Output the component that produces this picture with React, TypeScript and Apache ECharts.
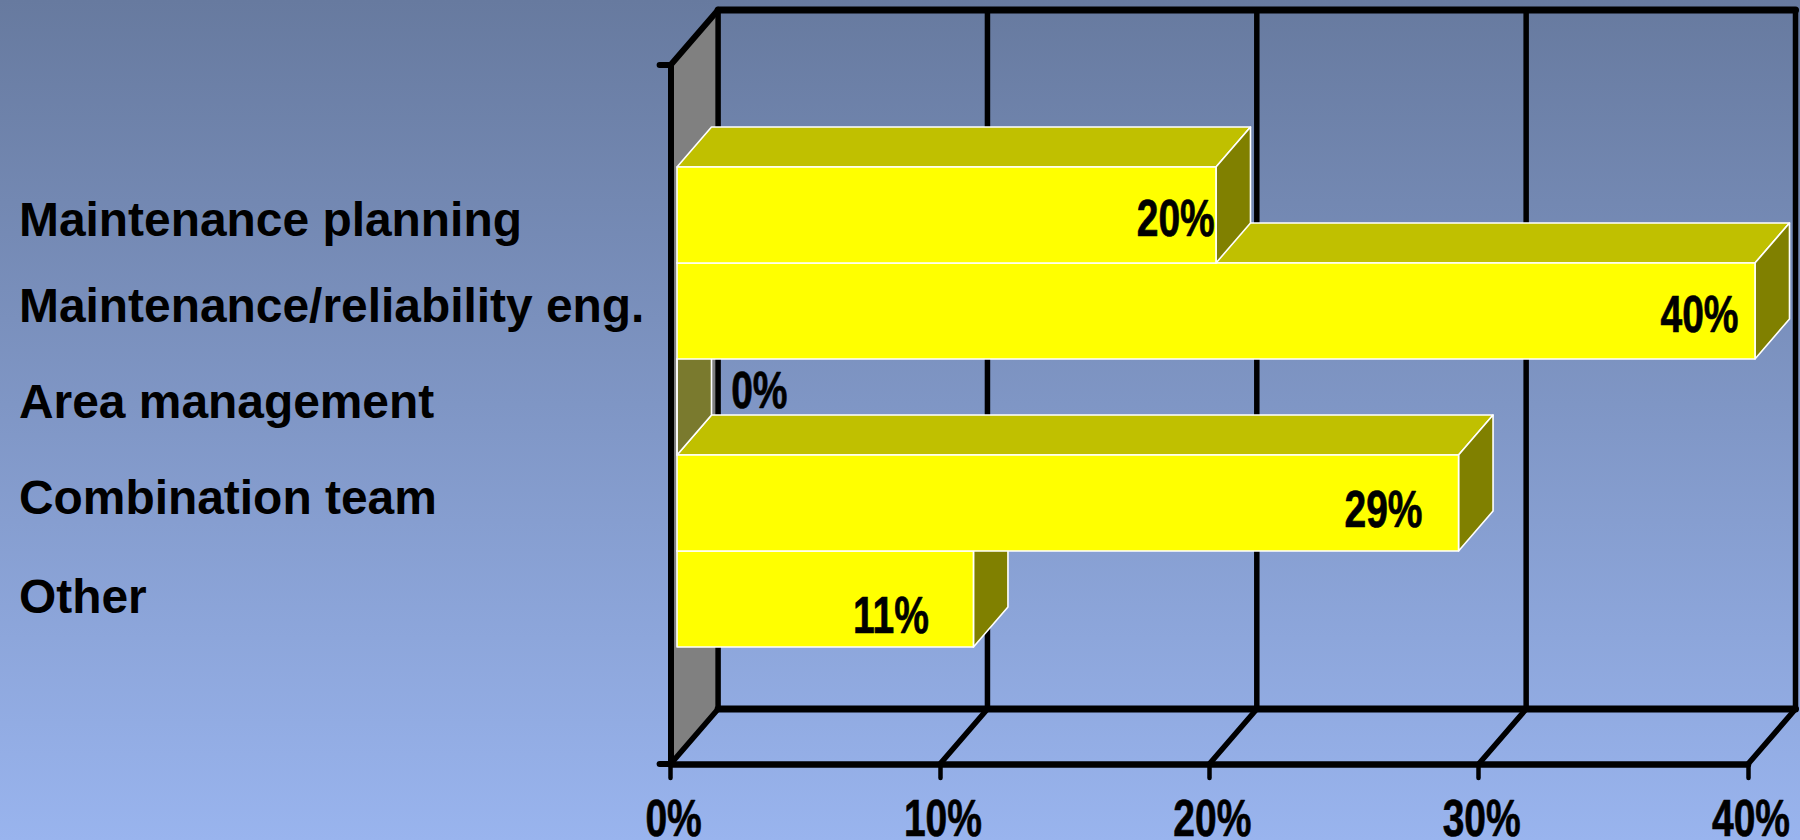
import React, { useEffect, useRef } from "react";
import * as echarts from "echarts";

const categories = [
  "Maintenance planning",
  "Maintenance/reliability eng.",
  "Area management",
  "Combination team",
  "Other",
];
const shares = [20, 40, 0, 29, 11];
const axisTicks = [0, 10, 20, 30, 40];

const FONT = '"Liberation Sans", Arial, sans-serif';
const NARROW = 0.75; // horizontal squeeze of the numeric labels

// Per-row placement of the hand-set labels, relative to each bar
const categoryShift = [3, -6.3, -7, -7, -3.4];
const valueEndGap = [1.2, 16.5, -110.5, 36, 44.5];
const valueBaselineShift = [21.7, 22, 2, 24.7, 35];

// Distance from a text's box top to its baseline, at the sizes used below
const NUMERIC_ASCENT = 39;
const NUMERIC_LINE = 40;
const CATEGORY_ASCENT = 40;

// Oblique offsets of the floor/wall and of the bar extrusion
const WALL_DX = 47.5;
const WALL_DY = -55;
const BAR_DX = 34.5;
const BAR_DY = -40;

const BLACK = "#000000";

function line(a: number[], b: number[], lineWidth: number) {
  return {
    type: "line",
    shape: { x1: a[0], y1: a[1], x2: b[0], y2: b[1] },
    style: { stroke: BLACK, lineWidth, lineCap: "round" },
  };
}

function numericText(text: string, x: number, baseline: number, align: string) {
  const size = 52;
  return {
    type: "text",
    x,
    y: baseline - NUMERIC_ASCENT,
    scaleX: NARROW,
    style: {
      text,
      fill: BLACK,
      stroke: BLACK,
      lineWidth: 0.7,
      font: `bold ${size}px ${FONT}`,
      lineHeight: NUMERIC_LINE,
      align,
      verticalAlign: "top",
    },
  };
}

export default function App() {
  const ref = useRef<HTMLDivElement>(null);

  useEffect(() => {
    const chart = echarts.init(ref.current!, null, { renderer: "svg" });

    // Side wall, back wall gridlines and floor rails of the 3D box
    const renderFrame = (_: any, api: any) => {
      const bottom = (v: number) => api.coord([v, 0]);
      const top = (v: number) => api.coord([v, 1]);
      const back = (p: number[]) => [p[0] + WALL_DX, p[1] + WALL_DY];
      const children: any[] = [
        {
          type: "polygon",
          shape: { points: [top(0), back(top(0)), back(bottom(0)), bottom(0)] },
          style: { fill: "#808080" },
        },
        line(top(0), back(top(0)), 6),
        line(back(top(0)), back(top(40)), 7),
        line(back(bottom(0)), back(bottom(40)), 7),
      ];
      axisTicks.forEach((t) => {
        children.push(line(back(bottom(t)), back(top(t)), 5.5));
        children.push(line(bottom(t), back(bottom(t)), 5.5));
      });
      return { type: "group", children };
    };

    // One extruded bar: top face, end face, then the front face
    const renderBar = (_: any, api: any) => {
      const value = api.value(0);
      const row = api.value(1);
      const h = api.size([0, 1])[1];
      const x0 = api.coord([0, row])[0];
      const x1 = api.coord([value, row])[0];
      const yTop = api.coord([0, row])[1] - h / 2;
      const yBottom = yTop + h;
      const edge = { stroke: "#FFFFFF", lineWidth: 1.6, lineJoin: "round" };
      const children: any[] = [];
      if (value > 0) {
        children.push({
          type: "polygon",
          shape: {
            points: [
              [x0, yTop],
              [x0 + BAR_DX, yTop + BAR_DY],
              [x1 + BAR_DX, yTop + BAR_DY],
              [x1, yTop],
            ],
          },
          style: { fill: "#C0C000", ...edge },
        });
      }
      children.push({
        type: "polygon",
        shape: {
          points: [
            [x1, yTop],
            [x1 + BAR_DX, yTop + BAR_DY],
            [x1 + BAR_DX, yBottom + BAR_DY],
            [x1, yBottom],
          ],
        },
        style: { fill: value > 0 ? "#808000" : "#7A7A2E", ...edge },
      });
      children.push({
        type: "rect",
        shape: { x: x0, y: yTop, width: x1 - x0, height: h },
        style: { fill: "#FFFF00", ...edge },
      });
      return { type: "group", children };
    };

    const renderValueLabel = (_: any, api: any) => {
      const value = api.value(0);
      const row = api.value(1);
      const p = api.coord([value, row]);
      return numericText(
        `${value}%`,
        p[0] - valueEndGap[row],
        p[1] + valueBaselineShift[row],
        "right",
      );
    };

    const renderCategoryLabel = (_: any, api: any) => {
      const row = api.value(1);
      const p = api.coord([0, row]);
      return {
        type: "text",
        x: 19,
        y: p[1] + categoryShift[row] + 17 - CATEGORY_ASCENT,
        style: {
          text: categories[row],
          fill: BLACK,
          font: `bold 47.9px ${FONT}`,
          align: "left",
          verticalAlign: "top",
        },
      };
    };

    const renderTickLabel = (_: any, api: any) => {
      const t = api.value(0);
      const p = api.coord([t, 0]);
      return numericText(`${t}%`, p[0] + 3, p[1] + 73, "center");
    };

    const frontToBack = shares.map((_, i) => i).reverse();

    chart.setOption({
      animation: false,
      backgroundColor: new echarts.graphic.LinearGradient(0, 0, 0, 1, [
        { offset: 0, color: "#677A9F" },
        { offset: 1, color: "#99B4EE" },
      ]),
      grid: [
        { left: 670.6, top: 65, width: 1077.4, height: 699 },
        { left: 677, top: 167, width: 1078, height: 480 },
      ],
      xAxis: [
        {
          gridIndex: 0,
          type: "value",
          min: 0,
          max: 40,
          interval: 10,
          z: 5,
          axisLine: { show: true, lineStyle: { color: BLACK, width: 6.5, cap: "round" } },
          axisTick: { show: true, length: 14, lineStyle: { color: BLACK, width: 4.5, cap: "round" } },
          axisLabel: { show: false },
          splitLine: { show: false },
        },
        { gridIndex: 1, type: "value", min: 0, max: 40, interval: 10, show: false },
      ],
      yAxis: [
        {
          gridIndex: 0,
          type: "value",
          min: 0,
          max: 1,
          interval: 1,
          z: 5,
          axisLine: { show: true, lineStyle: { color: BLACK, width: 6, cap: "round" } },
          axisTick: { show: true, length: 11, lineStyle: { color: BLACK, width: 6, cap: "round" } },
          axisLabel: { show: false },
          splitLine: { show: false },
        },
        {
          gridIndex: 1,
          type: "category",
          inverse: true,
          data: categories,
          show: false,
        },
      ],
      series: [
        {
          type: "custom",
          xAxisIndex: 0,
          yAxisIndex: 0,
          z: 1,
          silent: true,
          renderItem: renderFrame,
          data: [[0, 0]],
        },
        {
          type: "custom",
          xAxisIndex: 1,
          yAxisIndex: 1,
          z: 2,
          silent: true,
          encode: { x: 0, y: 1 },
          renderItem: renderBar,
          data: frontToBack.map((i) => [shares[i], i]),
        },
        {
          type: "custom",
          xAxisIndex: 1,
          yAxisIndex: 1,
          z: 3,
          silent: true,
          encode: { x: 0, y: 1 },
          renderItem: renderValueLabel,
          data: shares.map((v, i) => [v, i]),
        },
        {
          type: "custom",
          xAxisIndex: 1,
          yAxisIndex: 1,
          z: 3,
          silent: true,
          encode: { x: 0, y: 1 },
          renderItem: renderCategoryLabel,
          data: shares.map((v, i) => [v, i]),
        },
        {
          type: "custom",
          xAxisIndex: 0,
          yAxisIndex: 0,
          z: 3,
          silent: true,
          renderItem: renderTickLabel,
          data: axisTicks.map((t) => [t, 0]),
        },
      ],
    });

    return () => chart.dispose();
  }, []);

  return (
    <div
      ref={ref}
      style={{ position: "absolute", left: 0, top: 0, width: 1800, height: 840 }}
    />
  );
}
